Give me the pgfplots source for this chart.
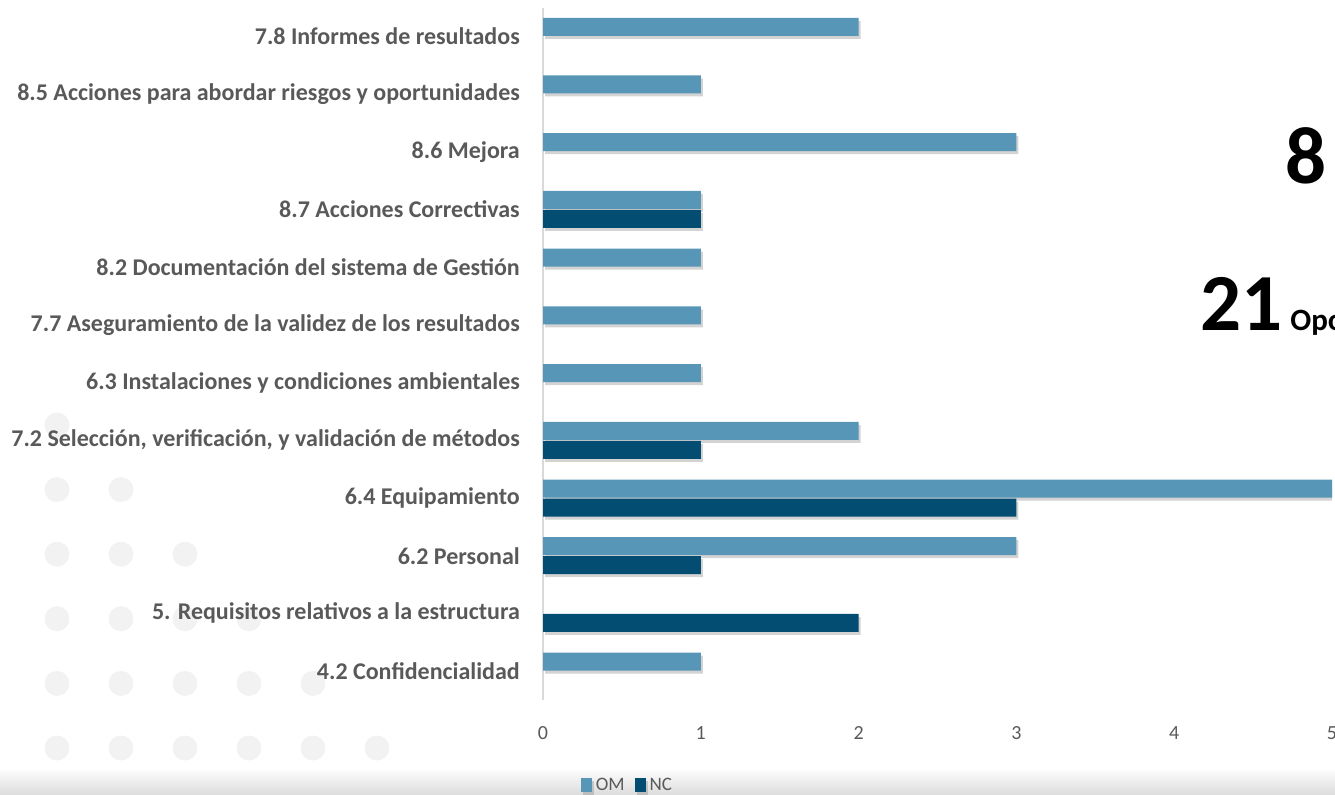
\documentclass[border=0pt]{standalone}
\usepackage{pgfplots}
\pgfplotsset{compat=1.18}
\usepackage{fontspec}
\setmainfont{Carlito}
\usetikzlibrary{shadows}

\definecolor{omblue}{RGB}{87,150,182}
\definecolor{ncblue}{RGB}{4,77,114}
\definecolor{txtgrey}{RGB}{89,89,89}
\definecolor{dotgrey}{RGB}{242,242,242}

\begin{document}
\begin{tikzpicture}
\useasboundingbox (0bp,0bp) rectangle (1335bp,-795bp);
\clip (0bp,0bp) rectangle (1335bp,-795bp);

% decorative dots, bottom left
\begin{scope}[x=1bp,y=1bp]
\foreach \r in {1,...,6}{
  \foreach \c in {1,...,\r}{
    \fill[dotgrey] ({57+64*(\c-1)},{-425-64.6*(\r-1)}) circle (12.5);
  }
}
% bottom shading band
\shade[top color=white, bottom color=black!14] (0,-768) rectangle (1335,-795);
\end{scope}

\begin{axis}[
    at={(543bp,-700bp)}, anchor=south west,
    scale only axis,
    width=789bp, height=692bp,
    xmin=0, xmax=5,
    ymin=-0.5, ymax=11.49,
    axis lines*=left,
    x axis line style={draw=none},
    y axis line style={draw=black!15, line width=2.5bp},
    xtick={0,1,2,3,4,5},
    ytick={0,...,11},
    major tick length=0pt,
    /pgf/number format/assume math mode=true,
    xticklabel style={font=\fontsize{20bp}{24bp}\selectfont, text=txtgrey, anchor=center, inner sep=0pt, yshift=-33bp},
    yticklabel style={font=\fontsize{24bp}{28bp}\selectfont\bfseries, text=txtgrey, anchor=east, inner sep=0pt, xshift=-23bp},
    yticklabels={
        {4.2 Confidencialidad},
        {5. Requisitos relativos a la estructura},
        {6.2 Personal},
        {6.4 Equipamiento},
        {7.2 Selección, verificación, y validación de métodos},
        {6.3 Instalaciones y condiciones ambientales},
        {7.7 Aseguramiento de la validez de los resultados},
        {8.2 Documentación del sistema de Gestión},
        {8.7 Acciones Correctivas},
        {8.6 Mejora},
        {8.5 Acciones para abordar riesgos y oportunidades},
        {7.8 Informes de resultados}
    },
    xbar,
    bar width=18bp,
    legend columns=-1,
    legend style={at={(0.107,-0.123)}, anchor=center, draw=none, fill=none,
        font=\fontsize{19bp}{22bp}\selectfont, text=txtgrey,
        /tikz/every even column/.append style={column sep=8bp}},
    legend image code/.code={\fill[#1] (0bp,-7bp) rectangle (11bp,7bp);},
]
\addplot[draw=none, fill=omblue, bar shift=9.5bp,
    drop shadow={shadow xshift=2bp, shadow yshift=-3bp, opacity=0.35}]
coordinates {
    (1,0) (3,2) (5,3) (2,4) (1,5) (1,6) (1,7) (1,8) (3,9) (1,10) (2,11)
};
\addlegendentry{\hspace{2bp}OM}
\addplot[draw=none, fill=ncblue, bar shift=-9.5bp,
    drop shadow={shadow xshift=2bp, shadow yshift=-3bp, opacity=0.35}]
coordinates {
    (2,1) (1,2) (3,3) (1,4) (1,8)
};
\addlegendentry{\hspace{2bp}NC}
\end{axis}

\node[anchor=base west, inner sep=0pt, text=black] at (1285bp,-183bp)
    {\fontsize{81bp}{81bp}\selectfont\bfseries 8\hspace{8bp}\fontsize{31bp}{31bp}\selectfont No conformidades};
\node[anchor=base west, inner sep=0pt, text=black] at (1200bp,-330bp)
    {\fontsize{81bp}{81bp}\selectfont\bfseries 21\hspace{8bp}\fontsize{31bp}{31bp}\selectfont Oportunidades de mejora};
\end{tikzpicture}
\end{document}
